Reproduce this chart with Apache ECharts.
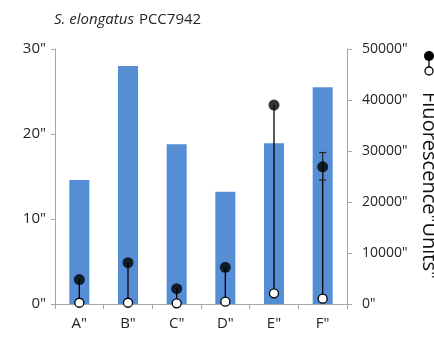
<!DOCTYPE html>
<html>
<head>
<meta charset="utf-8">
<script src="https://cdn.jsdelivr.net/npm/echarts@6/dist/echarts.min.js"></script>
<style>
  html, body { margin: 0; padding: 0; background: #fff; }
  #chart { width: 434px; height: 338px; }
</style>
</head>
<body>
<div id="chart"></div>
<script>
// Strain categories and measured values
const categories = ['A"', 'B"', 'C"', 'D"', 'E"', 'F"'];
const barValues = [14.6, 28.0, 18.8, 13.2, 18.9, 25.5];          // left axis
const fluorHigh = [4800, 8100, 3000, 7200, 39000, 26900];        // filled markers
const fluorLow = [250, 250, 130, 450, 2100, 1050];               // open markers
const errIndex = [5];
const errLow = [24300];
const errHigh = [29700];
const leftTicks = ['0"', '10"', '20"', '30"'];
const rightTicks = ['0"', '10000"', '20000"', '30000"', '40000"', '50000"'];
const seriesName = 'Fluorescence"Units"';

const FONT = 'Open Sans';
const TXT = '#262626';
const AXIS = '#a6a6a6';

const chart = echarts.init(document.getElementById('chart'), null, { renderer: 'canvas' });

function stemItem(params, api) {
  const a = api.coord([api.value(0), api.value(1)]);
  const b = api.coord([api.value(0), api.value(2)]);
  return {
    type: 'line',
    shape: { x1: a[0], y1: a[1], x2: b[0], y2: b[1] },
    style: { stroke: '#000', lineWidth: 1.3 }
  };
}

function errItem(params, api) {
  const a = api.coord([api.value(0), api.value(1)]);
  const b = api.coord([api.value(0), api.value(2)]);
  const w = 3.5;
  const st = { stroke: '#222', lineWidth: 1.2 };
  return {
    type: 'group',
    children: [
      { type: 'line', shape: { x1: a[0], y1: a[1], x2: b[0], y2: b[1] }, style: st },
      { type: 'line', shape: { x1: a[0] - w, y1: a[1], x2: a[0] + w, y2: a[1] }, style: st },
      { type: 'line', shape: { x1: b[0] - w, y1: b[1], x2: b[0] + w, y2: b[1] }, style: st }
    ]
  };
}

chart.setOption({
  animation: false,
  backgroundColor: '#fff',
  title: {
    text: '{i|S. elongatus} {n|PCC7942}',
    left: 49,
    top: 6,
    textStyle: {
      fontWeight: 'normal',
      rich: {
        i: { fontFamily: FONT, fontSize: 15, fontStyle: 'italic', fontWeight: 'normal', color: TXT },
        n: { fontFamily: FONT, fontSize: 15, fontWeight: 'normal', color: TXT }
      }
    }
  },
  grid: { left: 55, right: 87, top: 49, bottom: 34, containLabel: false },
  xAxis: {
    type: 'category',
    data: categories,
    axisLine: { lineStyle: { color: AXIS, width: 1 } },
    axisTick: { show: true, length: 5, lineStyle: { color: AXIS } },
    axisLabel: { color: TXT, fontFamily: FONT, fontSize: 15, margin: 12 }
  },
  yAxis: [
    {
      type: 'value', min: 0, max: 30, interval: 10,
      axisLine: { show: true, lineStyle: { color: AXIS } },
      axisTick: { show: true, length: 4, lineStyle: { color: AXIS } },
      splitLine: { show: false },
      axisLabel: {
        color: TXT, fontFamily: FONT, fontSize: 15, margin: 9,
        formatter: (v) => leftTicks[Math.round(v / 10)]
      }
    },
    {
      type: 'value', min: 0, max: 50000, interval: 10000, position: 'right',
      axisLine: { show: true, lineStyle: { color: AXIS } },
      axisTick: { show: true, length: 5, lineStyle: { color: AXIS } },
      splitLine: { show: false },
      axisLabel: {
        color: TXT, fontFamily: FONT, fontSize: 14, margin: 15,
        formatter: (v) => rightTicks[Math.round(v / 10000)]
      }
    }
  ],
  series: [
    {
      type: 'bar',
      data: barValues,
      barWidth: 20,
      itemStyle: { color: '#558ed5' },
      z: 1
    },
    {
      type: 'custom',
      yAxisIndex: 1,
      renderItem: stemItem,
      data: categories.map((c, i) => [i, fluorLow[i], fluorHigh[i]]),
      z: 3
    },
    {
      type: 'custom',
      yAxisIndex: 1,
      renderItem: errItem,
      data: errIndex.map((ci, k) => [ci, errLow[k], errHigh[k]]),
      z: 3
    },
    {
      name: seriesName,
      type: 'scatter',
      yAxisIndex: 1,
      data: fluorHigh,
      symbol: 'circle',
      symbolSize: 11,
      itemStyle: { color: '#000' },
      z: 5
    },
    {
      type: 'scatter',
      yAxisIndex: 1,
      data: fluorLow,
      symbol: 'circle',
      symbolSize: 9,
      itemStyle: { color: '#fff', borderColor: '#000', borderWidth: 1.3, opacity: 1 },
      z: 6
    }
  ],
  graphic: [
    // series key: filled marker joined to open marker, with rotated name
    { type: 'line', shape: { x1: 429, y1: 56, x2: 429, y2: 71 }, style: { stroke: '#000', lineWidth: 1.3 }, z: 10 },
    { type: 'circle', shape: { cx: 429, cy: 56, r: 5 }, style: { fill: '#000' }, z: 11 },
    { type: 'circle', shape: { cx: 429, cy: 71, r: 4 }, style: { fill: '#fff', stroke: '#000', lineWidth: 1.3 }, z: 11 },
    {
      type: 'text',
      x: 419, y: 92,
      rotation: -Math.PI / 2,
      style: {
        text: seriesName,
        fontFamily: FONT,
        fontSize: 20,
        fill: '#111',
        align: 'left',
        verticalAlign: 'bottom'
      },
      z: 10
    }
  ]
});
</script>
</body>
</html>
